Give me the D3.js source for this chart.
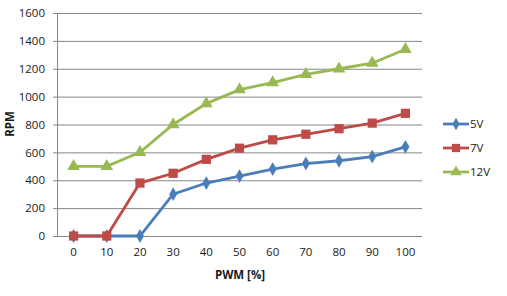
<!DOCTYPE html>
<html>
<head>
<meta charset="utf-8">
<script src="https://cdn.jsdelivr.net/npm/d3@7"></script>
<style>
  body { margin: 0; background: #fff; }
  text { font-family: "Open Sans", "Noto Sans", sans-serif; fill: #1a1a1a; }
</style>
</head>
<body>
<script>
// PWM steps and RPM per supply voltage
var pwm = ["0", "10", "20", "30", "40", "50", "60", "70", "80", "90", "100"];
var rpm5 = [0, 0, 0, 300, 380, 430, 480, 520, 540, 570, 640];
var rpm7 = [0, 0, 380, 450, 550, 630, 690, 730, 770, 810, 880];
var rpm12 = [500, 500, 600, 800, 950, 1050, 1100, 1160, 1200, 1240, 1340];
var yTicks = [0, 200, 400, 600, 800, 1000, 1200, 1400, 1600];

var series = [
  { name: "5V", values: rpm5, color: "#4a7ebb", shape: d3.symbolDiamond, size: 55 },
  { name: "7V", values: rpm7, color: "#be4b48", shape: d3.symbolSquare, size: 85 },
  { name: "12V", values: rpm12, color: "#98b954", shape: d3.symbolTriangle, size: 70 }
];

var w = 507, h = 296;
// plot area edges (note: "top" is reserved on window)
var plotL = 57, plotR = 422, plotT = 13, plotB = 236;

var svg = d3.select("body").append("svg")
  .attr("width", w)
  .attr("height", h);

var x = d3.scaleBand().domain(pwm).range([plotL, plotR]);
var y = d3.scaleLinear().domain([0, 1600]).range([plotB, plotT]);

// horizontal grid + y ticks
var yAxis = svg.append("g")
  .attr("transform", "translate(" + plotL + ",0)")
  .call(d3.axisLeft(y).tickValues(yTicks).tickSize(-(plotR - plotL)).tickPadding(12).tickFormat(d3.format("d")));
yAxis.select(".domain").remove();
yAxis.selectAll("line").attr("stroke", "#868686").attr("x1", -4);
yAxis.selectAll("text").attr("font-size", 11.5).attr("font-family", "Open Sans");

// left axis line
svg.append("line")
  .attr("x1", plotL + 0.5).attr("x2", plotL + 0.5)
  .attr("y1", plotT).attr("y2", plotB)
  .attr("stroke", "#868686");

// x tick labels
var xAxis = svg.append("g")
  .attr("transform", "translate(0," + plotB + ")")
  .call(d3.axisBottom(x).tickSize(0).tickPadding(12));
xAxis.select(".domain").remove();
xAxis.selectAll("text").attr("font-size", 11.5).attr("font-family", "Open Sans");

// axis titles
svg.append("text")
  .attr("x", 240).attr("y", 279)
  .attr("text-anchor", "middle")
  .attr("font-size", 11.5).attr("font-weight", "bold")
  .text("PWM [%]");

svg.append("text")
  .attr("transform", "translate(14,124) rotate(-90)")
  .attr("text-anchor", "middle")
  .attr("font-size", 11.5).attr("font-weight", "bold")
  .text("RPM");

var line = d3.line()
  .x(function(d, i) { return x(pwm[i]) + x.bandwidth() / 2; })
  .y(function(d) { return y(d); });

series.forEach(function(s) {
  svg.append("path")
    .datum(s.values)
    .attr("fill", "none")
    .attr("stroke", s.color)
    .attr("stroke-width", 2.8)
    .attr("d", line);

  svg.selectAll(null)
    .data(s.values)
    .enter()
    .append("path")
    .attr("d", d3.symbol().type(s.shape).size(s.size))
    .attr("fill", s.color)
    .attr("transform", function(d, i) {
      return "translate(" + (x(pwm[i]) + x.bandwidth() / 2) + "," + y(d) + ")";
    });
});

// legend
var legend = svg.append("g");
series.forEach(function(s, i) {
  var ly = 124 + i * 24;
  legend.append("line")
    .attr("x1", 443).attr("x2", 469)
    .attr("y1", ly).attr("y2", ly)
    .attr("stroke", s.color).attr("stroke-width", 2.8);
  legend.append("path")
    .attr("d", d3.symbol().type(s.shape).size(s.size * 0.8))
    .attr("fill", s.color)
    .attr("transform", "translate(456," + ly + ")");
  legend.append("text")
    .attr("x", 470).attr("y", ly + 4)
    .attr("font-size", 11.5)
    .text(s.name);
});
</script>
</body>
</html>
